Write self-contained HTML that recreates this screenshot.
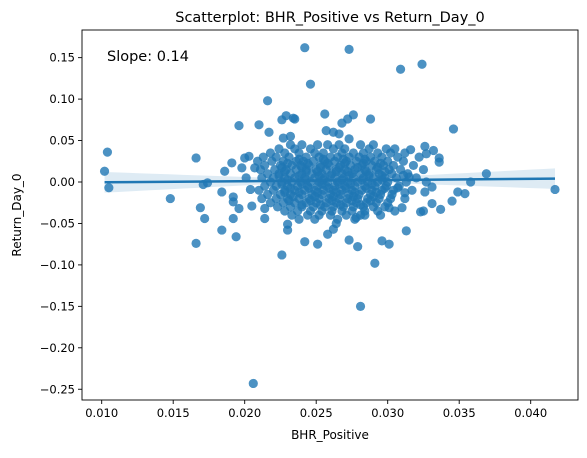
<!DOCTYPE html>
<html><head><meta charset="utf-8"><style>
body{margin:0;background:#fff;width:587px;height:453px;overflow:hidden;font-family:"Liberation Sans","DejaVu Sans",sans-serif}
</style></head><body>
<svg id="chart" width="587" height="453" xmlns="http://www.w3.org/2000/svg" font-family="'DejaVu Sans','Liberation Sans',sans-serif">
<text x="330" y="22" text-anchor="middle" font-size="14.5" fill="#000">Scatterplot: BHR_Positive vs Return_Day_0</text>
<text transform="translate(21,215) rotate(-90)" text-anchor="middle" font-size="12" fill="#000">Return_Day_0</text>
<text x="330" y="439" text-anchor="middle" font-size="12" fill="#000">BHR_Positive</text>
<g id="band"></g>
<g id="pts"></g>
<g id="reg"></g>
<g id="axes"></g>
<text x="107" y="61" font-size="14.5" fill="#000">Slope: 0.14</text>
</svg>
<script>
const xTicks=[0.010,0.015,0.020,0.025,0.030,0.035,0.040];
const xTickLabels=["0.010","0.015","0.020","0.025","0.030","0.035","0.040"];
const yTicks=[0.15,0.10,0.05,0.00,-0.05,-0.10,-0.15,-0.20,-0.25];
const yTickLabels=["0.15","0.10","0.05","0.00","\u22120.05","\u22120.10","\u22120.15","\u22120.20","\u22120.25"];
const outX=[0.0102,0.0104,0.0105,0.0148,0.0166,0.0169,0.0172,0.0166,0.0171,0.0174,0.0184,0.0186,0.0184,0.0191,0.0192,0.0192,0.0196,0.0192,0.0194,0.0196,0.0200,0.0203,0.0198,0.0201,0.0204,0.0205,0.0207,0.0210,0.0216,0.0217,0.0214,0.0214,0.0226,0.0206,0.0226,0.0229,0.0235,0.0227,0.0232,0.0230,0.0230,0.0242,0.0273,0.0246,0.0309,0.0324,0.0256,0.0276,0.0272,0.0268,0.0288,0.0346,0.0234,0.0257,0.0262,0.0266,0.0273,0.0316,0.0326,0.0332,0.0327,0.0336,0.0336,0.0369,0.0358,0.0349,0.0354,0.0345,0.0337,0.0331,0.0331,0.0326,0.0323,0.0325,0.0417,0.0313,0.0296,0.0301,0.0291,0.0281,0.0273,0.0279,0.0242,0.0251,0.0258,0.0262,0.0264,0.0278,0.0284,0.0295,0.0301,0.0305,0.0310,0.0312,0.0307,0.0315,0.0311];
const outY=[0.013,0.036,-0.007,-0.020,0.029,-0.031,-0.044,-0.074,-0.003,-0.001,-0.012,0.013,-0.058,0.023,-0.018,-0.024,-0.032,-0.044,-0.066,0.068,0.029,0.031,0.017,0.005,-0.009,-0.029,0.017,0.069,0.098,0.060,-0.044,-0.032,-0.088,-0.243,0.075,0.080,0.076,0.053,0.055,-0.051,-0.058,0.162,0.160,0.118,0.136,0.142,0.082,0.081,0.076,0.071,0.076,0.064,0.077,0.062,0.060,0.058,0.052,0.039,0.043,0.038,0.034,0.029,0.024,0.010,0.000,-0.012,-0.014,-0.023,-0.033,-0.026,-0.006,-0.012,-0.036,-0.035,-0.009,-0.059,-0.071,-0.075,-0.098,-0.150,-0.070,-0.078,-0.072,-0.075,-0.063,-0.057,-0.050,-0.043,-0.040,-0.040,-0.031,-0.035,-0.031,-0.013,-0.007,0.006,0.008];
const coreRowY=[0.045,0.040,0.035,0.030,0.025,0.020,0.015,0.010,0.005,0.000,-0.005,-0.010,-0.015,-0.020,-0.025,-0.030,-0.035,-0.040,-0.045];
const coreRowX=[
[0.0232,0.0240,0.0251,0.0258,0.0266,0.0281,0.0290],
[0.0224,0.0235,0.0246,0.0262,0.0270,0.0287,0.0299,0.0305],
[0.0218,0.0228,0.0238,0.0249,0.0255,0.0268,0.0276,0.0283,0.0293,0.0302,0.0312],
[0.0213,0.0222,0.0231,0.0243,0.0252,0.0260,0.0265,0.0273,0.0280,0.0288,0.0296,0.0307,0.0322],
[0.0209,0.0219,0.0227,0.0236,0.0241,0.0248,0.0256,0.0263,0.0271,0.0278,0.0285,0.0291,0.0300,0.0311],
[0.0214,0.0225,0.0233,0.0239,0.0245,0.0253,0.0259,0.0267,0.0274,0.0282,0.0289,0.0297,0.0304,0.0318],
[0.0211,0.0221,0.0229,0.0236,0.0243,0.0250,0.0257,0.0264,0.0270,0.0277,0.0284,0.0292,0.0301,0.0309,0.0325],
[0.0216,0.0224,0.0232,0.0240,0.0247,0.0254,0.0261,0.0268,0.0275,0.0281,0.0287,0.0294,0.0303,0.0314],
[0.0212,0.0220,0.0228,0.0235,0.0242,0.0249,0.0256,0.0263,0.0269,0.0276,0.0283,0.0290,0.0298,0.0306,0.0320],
[0.0218,0.0226,0.0233,0.0239,0.0246,0.0252,0.0258,0.0265,0.0272,0.0279,0.0286,0.0293,0.0300,0.0313,0.0327],
[0.0214,0.0222,0.0230,0.0237,0.0244,0.0251,0.0257,0.0263,0.0270,0.0277,0.0284,0.0291,0.0299,0.0308],
[0.0210,0.0220,0.0228,0.0235,0.0242,0.0249,0.0255,0.0262,0.0268,0.0275,0.0282,0.0289,0.0296,0.0304,0.0317],
[0.0216,0.0225,0.0232,0.0240,0.0247,0.0254,0.0260,0.0267,0.0273,0.0280,0.0288,0.0295,0.0303],
[0.0212,0.0222,0.0230,0.0238,0.0245,0.0252,0.0259,0.0266,0.0272,0.0279,0.0286,0.0294,0.0302,0.0312],
[0.0218,0.0227,0.0235,0.0243,0.0250,0.0257,0.0264,0.0271,0.0278,0.0285,0.0292,0.0300],
[0.0223,0.0232,0.0240,0.0248,0.0256,0.0262,0.0269,0.0276,0.0283,0.0290,0.0298],
[0.0228,0.0237,0.0246,0.0254,0.0261,0.0268,0.0275,0.0284,0.0293],
[0.0233,0.0244,0.0252,0.0260,0.0271,0.0281],
[0.0238,0.0249,0.0265,0.0277]];
const denseRowY=[0.0275,0.0225,0.0175,0.0125,0.0075,0.0025,-0.0025,-0.0075,-0.0125,-0.0175,-0.0225,-0.0275];
const denseRowX=[
[0.0238,0.0255,0.0269,0.0284],
[0.0230,0.0244,0.0258,0.0270,0.0283,0.0295],
[0.0226,0.0240,0.0253,0.0266,0.0279,0.0293],
[0.0228,0.0243,0.0251,0.0264,0.0272,0.0285,0.0298],
[0.0224,0.0238,0.0252,0.0260,0.0273,0.0287,0.0296],
[0.0230,0.0243,0.0255,0.0268,0.0282,0.0296],
[0.0226,0.0240,0.0254,0.0266,0.0274,0.0289],
[0.0232,0.0245,0.0259,0.0271,0.0285,0.0298],
[0.0228,0.0238,0.0251,0.0264,0.0277,0.0292],
[0.0234,0.0249,0.0262,0.0276,0.0290],
[0.0231,0.0246,0.0261,0.0275,0.0288],
[0.0240,0.0253,0.0267,0.0281]];
const regIntercept=-0.0018, regSlope=0.14, regXMin=0.0102, regXMax=0.0417;
const bandCenterX=0.026, bandMinHalf=0.002, bandSpread=0.78;

const L=82,R=578,T=30,B=400;
const sx=v=>101.7+(v-0.010)*14300;
const sy=v=>182-v*829;
const NS="http://www.w3.org/2000/svg";
function mk(tag,attrs,parent){const e=document.createElementNS(NS,tag);for(const k in attrs)e.setAttribute(k,attrs[k]);parent.appendChild(e);return e;}

const band=document.getElementById('band');
let up=[],dn=[];
for(let i=0;i<=40;i++){const x=regXMin+(regXMax-regXMin)*i/40;const yv=regIntercept+regSlope*x;const hw=Math.sqrt(bandMinHalf*bandMinHalf+Math.pow(bandSpread*(x-bandCenterX),2));up.push(sx(x)+','+sy(yv+hw));dn.unshift(sx(x)+','+sy(yv-hw));}
const bp=mk('polygon',{points:up.concat(dn).join(' '),fill:'#1f77b4','fill-opacity':0.15},band);



const pts=document.getElementById('pts');
function dot(x,y){const c=mk('circle',{cx:sx(x),cy:sy(y),r:4.6,fill:'#1f77b4','fill-opacity':0.8},pts);

}
coreRowY.forEach((y,i)=>coreRowX[i].forEach(x=>dot(x,y)));
denseRowY.forEach((y,i)=>denseRowX[i].forEach(x=>dot(x,y)));
outX.forEach((x,i)=>dot(x,outY[i]));

const reg=document.getElementById('reg');
const ln=mk('line',{x1:sx(regXMin),y1:sy(regIntercept+regSlope*regXMin),x2:sx(regXMax),y2:sy(regIntercept+regSlope*regXMax),stroke:'#1f77b4','stroke-width':2.5},reg);



const ax=document.getElementById('axes');
const fr=mk('rect',{x:L,y:T,width:R-L,height:B-T,fill:'none',stroke:'#000','stroke-width':0.9},ax);


xTicks.forEach((v,i)=>{const x=sx(v);mk('line',{x1:x,y1:B,x2:x,y2:B+4,stroke:'#000','stroke-width':0.9},ax);
const t=mk('text',{x:x,y:B+17,'text-anchor':'middle','font-size':11.5},ax);t.textContent=xTickLabels[i];

});
yTicks.forEach((v,i)=>{const y=sy(v);mk('line',{x1:L-4,y1:y,x2:L,y2:y,stroke:'#000','stroke-width':0.9},ax);
const t=mk('text',{x:L-7,y:y+4,'text-anchor':'end','font-size':11.5},ax);t.textContent=yTickLabels[i];

});
</script>
</body></html>
